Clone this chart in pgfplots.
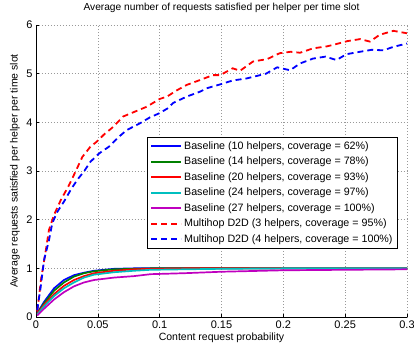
\documentclass[border=0pt]{standalone}
\usepackage{fontspec}
\setmainfont{Liberation Sans}
\usepackage{pgfplots}
\pgfplotsset{compat=1.18}
\definecolor{mgreen}{rgb}{0,0.5,0}
\definecolor{mcyan}{rgb}{0,0.75,0.75}
\definecolor{mmag}{rgb}{0.75,0,0.75}
\begin{document}
\begin{tikzpicture}
\begin{axis}[
  scale only axis, width=371bp, height=292bp,
  xmin=0, xmax=0.3, ymin=0, ymax=6,
  axis x line*=bottom, axis y line*=left,
  axis line style={line width=0.8pt, black},
  xtick={0,0.05,0.1,0.15,0.2,0.25,0.3},
  xticklabels={0,0.05,0.1,0.15,0.2,0.25,0.3},
  ytick={0,1,2,3,4,5,6},
  tick align=inside, major tick length=3bp,
  tick style={line width=0.6pt, black},
  grid=major,
  major grid style={line width=0.5pt, dash pattern=on 0.6pt off 2.4pt, gray!80},
  /pgf/number format/assume math mode=true,
  tick label style={font=\fontsize{11bp}{13bp}\selectfont},
  label style={font=\fontsize{10.5bp}{12bp}\selectfont},
  title style={font=\fontsize{10.2bp}{12bp}\selectfont, at={(axis description cs:0.5,1.0377)}, anchor=center},
  title={Average number of requests satisfied per helper per time slot},
  xlabel={Content request probability},
  ylabel={Average requests satisfied per helper per time slot},
  xlabel style={at={(axis description cs:0.5,-0.072)}, anchor=center},
  ylabel style={at={(axis description cs:-0.0566,0.5)}, anchor=center},
  legend cell align=left,
  legend style={at={(0.299,0.616)}, anchor=north west, draw=black, line width=0.8pt,
    font=\fontsize{10.7bp}{12bp}\selectfont, row sep=2.3bp, inner xsep=3bp, inner ysep=2bp},
  legend image code/.code={\draw[#1] (0bp,0bp) -- (30bp,0bp);},
]
\addplot[blue, line width=1.7bp] coordinates {(0.001,0.08)(0.0065,0.31)(0.0146,0.59)(0.0226,0.76)(0.0307,0.86)(0.0388,0.91)(0.0469,0.95)(0.0631,0.99)(0.0792,1.0)(0.0927,1.0)(0.12,1.0)(0.15,1.0)(0.2,1.0)(0.25,1.0)(0.3,1.0)};
\addlegendentry{Baseline (10 helpers, coverage = 62\%)}
\addplot[mgreen, line width=1.7bp] coordinates {(0.001,0.07)(0.0065,0.28)(0.0146,0.54)(0.0226,0.71)(0.0307,0.83)(0.0388,0.90)(0.0469,0.94)(0.0631,0.98)(0.0792,0.99)(0.0927,1.0)(0.12,1.0)(0.15,1.0)(0.2,1.0)(0.25,1.0)(0.3,1.0)};
\addlegendentry{Baseline (14 helpers, coverage = 78\%)}
\addplot[red, line width=1.7bp] coordinates {(0.001,0.06)(0.0065,0.25)(0.0146,0.47)(0.0226,0.64)(0.0307,0.76)(0.0388,0.84)(0.0469,0.90)(0.0631,0.95)(0.0792,0.98)(0.0927,0.99)(0.12,1.0)(0.15,1.0)(0.2,1.0)(0.25,1.0)(0.3,1.0)};
\addlegendentry{Baseline (20 helpers, coverage = 93\%)}
\addplot[mcyan, line width=1.7bp] coordinates {(0.001,0.05)(0.0065,0.22)(0.0146,0.43)(0.0226,0.59)(0.0307,0.71)(0.0388,0.81)(0.0469,0.87)(0.0631,0.92)(0.0792,0.95)(0.0927,0.97)(0.12,0.98)(0.15,0.99)(0.2,1.0)(0.25,1.0)(0.3,1.0)};
\addlegendentry{Baseline (24 helpers, coverage = 97\%)}
\addplot[mmag, line width=1.7bp] coordinates {(0.001,0.03)(0.0065,0.17)(0.0146,0.36)(0.0226,0.51)(0.0307,0.63)(0.0388,0.71)(0.0469,0.76)(0.0631,0.81)(0.0792,0.84)(0.0927,0.88)(0.12,0.90)(0.15,0.93)(0.2,0.96)(0.25,0.97)(0.3,0.98)};
\addlegendentry{Baseline (27 helpers, coverage = 100\%)}
\addplot[red, line width=1.8bp, dash pattern=on 6bp off 4bp] coordinates {(0.001,0.11)(0.004,0.76)(0.008,1.38)(0.0105,1.79)(0.0146,2.10)(0.020,2.40)(0.0267,2.71)(0.032,2.99)(0.0375,3.29)(0.044,3.50)(0.049,3.60)(0.055,3.75)(0.0612,3.88)(0.066,4.00)(0.0705,4.12)(0.08,4.22)(0.0895,4.32)(0.100,4.48)(0.106,4.53)(0.114,4.66)(0.122,4.77)(0.1327,4.87)(0.143,4.97)(0.149,4.97)(0.159,5.11)(0.165,5.06)(0.1755,5.25)(0.187,5.30)(0.197,5.42)(0.206,5.45)(0.2135,5.43)(0.224,5.52)(0.235,5.56)(0.240,5.59)(0.252,5.67)(0.262,5.71)(0.270,5.66)(0.278,5.80)(0.289,5.88)(0.300,5.83)};
\addlegendentry{Multihop D2D (3 helpers, coverage = 95\%)}
\addplot[blue, line width=1.8bp, dash pattern=on 6bp off 4bp] coordinates {(0.001,0.14)(0.0038,0.62)(0.0065,1.17)(0.0105,1.58)(0.0132,1.93)(0.0172,2.16)(0.0226,2.37)(0.028,2.61)(0.0334,2.82)(0.0388,2.99)(0.044,3.19)(0.051,3.36)(0.059,3.50)(0.066,3.68)(0.0733,3.84)(0.084,3.98)(0.092,4.10)(0.100,4.19)(0.106,4.28)(0.111,4.40)(0.122,4.53)(0.1326,4.63)(0.138,4.70)(0.149,4.78)(0.159,4.86)(0.170,4.90)(0.178,4.95)(0.186,5.00)(0.195,5.13)(0.2055,5.07)(0.2135,5.21)(0.224,5.31)(0.234,5.35)(0.243,5.28)(0.251,5.40)(0.262,5.45)(0.2715,5.49)(0.281,5.48)(0.2888,5.55)(0.300,5.62)};
\addlegendentry{Multihop D2D (4 helpers, coverage = 100\%)}
\end{axis}
\pgfresetboundingbox
\path[use as bounding box] (-36bp,-30bp) rectangle (378bp,317bp);
\end{tikzpicture}
\end{document}
